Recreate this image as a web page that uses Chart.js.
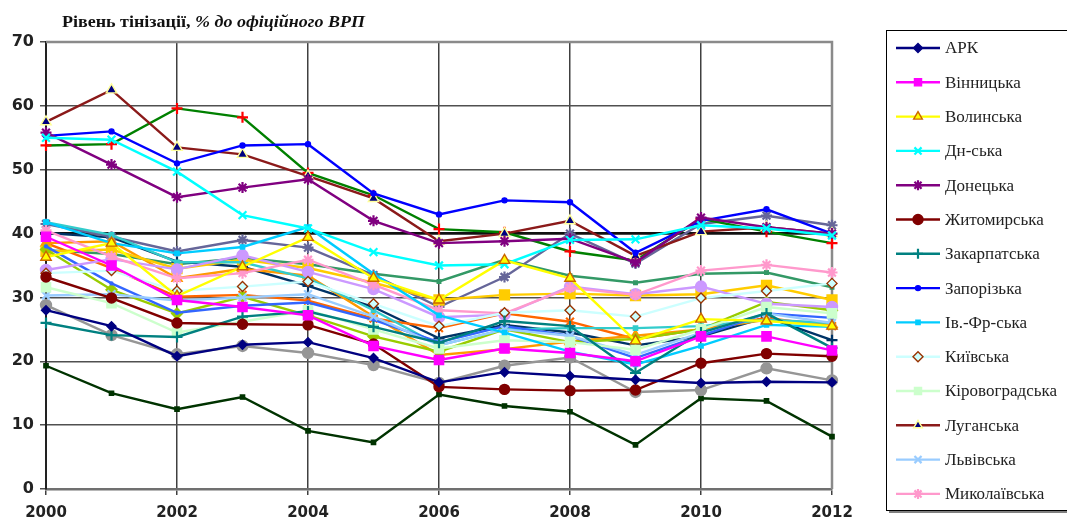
<!DOCTYPE html>
<html>
<head>
<meta charset="utf-8">
<script src="https://cdn.jsdelivr.net/npm/chart.js@4.4.0/dist/chart.umd.min.js"></script>
<style>
  html, body { margin: 0; padding: 0; background: #fff; }
  #wrap { width: 1067px; height: 518px; position: relative; }
</style>
</head>
<body>
<div id="wrap"><canvas id="c"></canvas></div>
<script>
// ── Data ─────────────────────────────────────────────────────────
const years = ["2000","2001","2002","2003","2004","2005","2006","2007","2008","2009","2010","2011","2012"];
const yTicks = [0, 10, 20, 30, 40, 50, 60, 70];

const ark          = [28.0, 25.5, 20.8, 22.6, 23.0, 20.5, 16.7, 18.3, 17.7, 17.1, 16.6, 16.8, 16.7];
const vinnytska    = [39.5, 35.0, 29.6, 28.5, 27.2, 22.4, 20.2, 22.0, 21.3, 20.0, 23.9, 23.9, 21.7];
const volynska     = [36.3, 38.5, 30.2, 34.8, 39.4, 33.0, 29.6, 35.8, 33.0, 23.2, 26.6, 26.3, 25.5];
const dnipro       = [55.0, 54.7, 49.7, 42.9, 40.8, 37.1, 35.0, 35.2, 39.0, 39.1, 41.3, 40.8, 39.7];
const donetska     = [55.8, 50.8, 45.7, 47.2, 48.5, 42.0, 38.5, 38.8, 39.2, 35.5, 42.5, 41.0, 40.0];
const zhytomyrska  = [33.2, 29.9, 26.0, 25.8, 25.7, 22.7, 16.0, 15.6, 15.4, 15.5, 19.7, 21.2, 20.8];
const zakarpatska  = [26.0, 24.1, 23.8, 27.0, 27.8, 25.4, 22.9, 26.3, 25.5, 18.2, 24.5, 27.5, 22.1];
const zaporizka    = [55.3, 56.0, 51.0, 53.8, 54.0, 46.3, 43.0, 45.2, 44.9, 37.0, 42.0, 43.8, 40.0];
const ivfr         = [41.8, 38.5, 36.9, 37.9, 41.0, 33.7, 27.2, 24.5, 21.5, 19.5, 22.4, 25.7, 25.4];
const kyivska      = [33.8, 34.2, 31.0, 31.7, 32.5, 29.0, 25.5, 27.6, 28.0, 27.0, 29.9, 31.0, 32.2];
const kirovohradska= [31.6, 29.1, 24.5, 26.2, 28.0, 25.0, 22.0, 23.3, 23.0, 21.8, 25.0, 28.5, 27.5];
const luhanska     = [57.5, 62.5, 53.5, 52.4, 49.0, 45.5, 38.8, 40.0, 42.0, 36.5, 40.3, 41.0, 40.0];
const lvivska      = [30.3, 30.5, 29.5, 30.0, 30.5, 27.0, 22.5, 25.0, 24.0, 21.0, 24.5, 27.5, 26.0];
const mykolaivska  = [40.5, 36.4, 33.0, 33.8, 35.9, 32.0, 28.0, 27.5, 31.5, 30.4, 34.2, 35.1, 33.9];
const odeska       = [34.3, 36.0, 34.4, 36.6, 34.0, 31.3, 26.9, 27.3, 31.7, 30.5, 31.7, 29.0, 28.5];
const poltavska    = [53.8, 54.0, 59.6, 58.2, 49.5, 46.0, 40.7, 40.2, 37.2, 35.8, 42.3, 40.3, 38.5];
const rivnenska    = [38.0, 32.2, 27.6, 28.7, 29.2, 26.5, 23.0, 25.5, 24.0, 20.5, 24.0, 27.5, 26.8];
const sumska       = [41.8, 39.8, 35.5, 35.5, 33.0, 28.0, 22.5, 25.0, 25.2, 25.2, 25.5, 26.5, 26.0];
const ternopilska  = [37.5, 31.2, 27.5, 30.1, 27.2, 23.9, 21.5, 25.0, 23.0, 23.5, 25.0, 29.3, 28.0];
const kharkivska   = [37.2, 37.5, 34.5, 35.9, 34.6, 32.3, 29.6, 30.4, 30.6, 30.3, 30.5, 31.9, 29.6];
const khersonska   = [38.5, 38.8, 33.0, 34.5, 33.4, 27.0, 21.0, 21.9, 23.1, 24.0, 25.0, 26.5, 25.8];
const khmelnytska  = [38.5, 34.6, 30.1, 30.4, 29.5, 26.7, 25.2, 27.5, 26.2, 23.5, 25.0, 26.8, 25.5];
const cherkaska    = [41.5, 39.5, 37.2, 39.0, 37.8, 33.5, 28.5, 33.2, 40.0, 35.3, 41.5, 42.8, 41.3];
const chernivetska = [28.8, 24.1, 21.1, 22.4, 21.3, 19.4, 16.6, 19.3, 20.6, 15.2, 15.5, 18.9, 17.0];
const chernihivska = [40.1, 39.4, 35.6, 34.8, 31.8, 28.5, 23.6, 25.7, 24.5, 22.5, 23.9, 26.9, 23.3];
const kyivCity     = [37.4, 36.8, 35.2, 36.2, 35.2, 33.7, 32.5, 35.9, 33.4, 32.3, 33.7, 33.9, 31.6];
const sevastopol   = [19.3, 15.0, 12.5, 14.4,  9.1,  7.3, 14.8, 13.0, 12.1,  6.9, 14.2, 13.8,  8.2];

const names = ["АРК","Вінницька","Волинська","Дн-ська","Донецька","Житомирська","Закарпатська",
  "Запорізька","Ів.-Фр-ська","Київська","Кіровоградська","Луганська","Львівська","Миколаївська",
  "Одеська","Полтавська","Рівненська","Сумська","Тернопільська","Харківська","Херсонська",
  "Хмельницька","Черкаська","Чернівецька","Чернігівська","м. Київ","м. Севастополь"];
const values = [ark, vinnytska, volynska, dnipro, donetska, zhytomyrska, zakarpatska,
  zaporizka, ivfr, kyivska, kirovohradska, luhanska, lvivska, mykolaivska,
  odeska, poltavska, rivnenska, sumska, ternopilska, kharkivska, khersonska,
  khmelnytska, cherkaska, chernivetska, chernihivska, kyivCity, sevastopol];

// ── Styles (line colour, marker style, marker fill, marker border, radius) ──
const STYLES = [
  ["#000080","rectRot","#000080","#000080",4.5],
  ["#FF00FF","rect","#FF00FF","#FF00FF",6.5],
  ["#FFFF00","triangle","#FFFF00","#CC6600",6],
  ["#00FFFF","crossRot","#00FFFF","#00FFFF",5.5],
  ["#800080","star","#800080","#800080",5.5],
  ["#800000","circle","#800000","#800000",5],
  ["#008080","cross","#008080","#008080",5.5],
  ["#0000FF","circle","#0000FF","#0000FF",2.5],
  ["#00CCFF","rect","#00CCFF","#00CCFF",3],
  ["#CCFFFF","rectRot","#CCFFFF","#993300",5],
  ["#CCFFCC","rect","#CCFFCC","#CCFFCC",6.5],
  ["#8B1A1A","triangle","#000080","#FFFF99",6],
  ["#99CCFF","crossRot","#99CCFF","#99CCFF",5.5],
  ["#FF99CC","star","#FF99CC","#FF99CC",5.5],
  ["#CC99FF","circle","#CC99FF","#CC99FF",5.5],
  ["#008000","cross","#FF0000","#FF0000",5.5],
  ["#3366FF","circle","#3366FF","#3366FF",1.5],
  ["#33CCCC","rect","#33CCCC","#33CCCC",3],
  ["#99CC00","rectRot","#99CC00","#99CC00",5.5],
  ["#FFCC00","rect","#FFCC00","#FFCC00",7],
  ["#FF9900","triangle","#FF9900","#FF9900",6],
  ["#FF6600","crossRot","#FF6600","#FF6600",5.5],
  ["#666699","star","#666699","#666699",5.5],
  ["#969696","circle","#969696","#969696",5.5],
  ["#003366","cross","#003366","#003366",5.5],
  ["#339966","rect","#339966","#339966",2.5],
  ["#003300","rect","#003300","#003300",3]
];
const LEGEND_COUNT = 14;

const datasets = names.map((n, i) => {
  const [col, ps, fill, bord, r] = STYLES[i];
  return {
    label: n, data: values[i], borderColor: col, backgroundColor: col,
    borderWidth: 2.4, tension: 0, pointStyle: ps, pointRadius: r, pointHoverRadius: r,
    pointBackgroundColor: fill, pointBorderColor: bord,
    pointBorderWidth: (ps === "star" || ps === "cross" || ps === "crossRot") ? 2.2 : 1.4
  };
});

// ── Frame, title and legend ──────────────────────────────────────
const decor = {
  id: "decor",
  beforeDatasetsDraw(chart) {
    const { ctx, chartArea: a } = chart;
    ctx.save();
    ctx.strokeStyle = "#8a8a8a"; ctx.lineWidth = 2.5;
    ctx.beginPath();
    ctx.moveTo(a.left, a.top); ctx.lineTo(a.right, a.top); ctx.lineTo(a.right, a.bottom);
    ctx.stroke();
    ctx.restore();
  },
  afterDraw(chart) {
    const ctx = chart.ctx;
    ctx.save();
    // title
    const t1 = "Рівень тінізації, ", t2 = "% до офіційного ВРП";
    const f1 = 'bold 16px "Liberation Serif"', f2 = 'bold italic 16px "Liberation Serif"';
    ctx.font = f1; const w1 = ctx.measureText(t1).width;
    ctx.font = f2; const w2 = ctx.measureText(t2).width;
    const sx = 303 / (w1 + w2);
    ctx.translate(62, 27); ctx.scale(sx, 1);
    ctx.fillStyle = "#111"; ctx.textBaseline = "alphabetic";
    ctx.font = f1; ctx.fillText(t1, 0, 0);
    ctx.font = f2; ctx.fillText(t2, w1, 0);
    ctx.restore();

    // legend box
    ctx.save();
    ctx.fillStyle = "#808080"; ctx.fillRect(889, 510, 200, 3);
    ctx.fillStyle = "#fff"; ctx.fillRect(886, 30, 200, 480);
    ctx.strokeStyle = "#000"; ctx.lineWidth = 1;
    ctx.strokeRect(886.5, 30.5, 200, 480);
    ctx.font = '17px "Liberation Serif"'; ctx.textBaseline = "middle";
    for (let i = 0; i < LEGEND_COUNT; i++) {
      const ds = chart.data.datasets[i];
      const y = 48 + i * 34.3;
      ctx.strokeStyle = ds.borderColor; ctx.lineWidth = 2.4;
      ctx.beginPath(); ctx.moveTo(896, y); ctx.lineTo(940, y); ctx.stroke();
      ctx.fillStyle = ds.pointBackgroundColor; ctx.strokeStyle = ds.pointBorderColor;
      ctx.lineWidth = ds.pointBorderWidth;
      if (Chart.helpers && Chart.helpers.drawPoint) {
        Chart.helpers.drawPoint(ctx, { pointStyle: ds.pointStyle, radius: Math.min(ds.pointRadius, 5), rotation: 0, borderWidth: ds.pointBorderWidth }, 918, y);
      }
      ctx.fillStyle = "#222";
      ctx.fillText(ds.label, 945, y + 1);
    }
    ctx.restore();
  }
};

new Chart(document.getElementById("c"), {
  type: "line",
  data: { labels: years, datasets },
  plugins: [decor],
  options: {
    responsive: true, maintainAspectRatio: false, animation: false,
    layout: { padding: { left: 0, top: 42, right: 1067 - 832, bottom: 0 } },
    plugins: { legend: { display: false }, tooltip: { enabled: false } },
    scales: {
      x: {
        offset: false,
        afterFit: s => { s.height = 29; },
        grid: {
          color: c => (c.index % 2 === 0 ? "#404040" : "rgba(0,0,0,0)"),
          lineWidth: 1.5, tickLength: 6
        },
        border: { color: "#707070", width: 2.5 },
        ticks: {
          autoSkip: false, maxRotation: 0, padding: 9, color: "#222",
          font: { family: "DejaVu Sans", size: 15, weight: "bold" },
          callback: (v, i) => (i % 2 === 0 ? years[i] : "")
        }
      },
      y: {
        min: 0, max: 70,
        afterFit: s => { s.width = 46; },
        afterBuildTicks: s => { s.ticks = yTicks.map(v => ({ value: v })); },
        grid: {
          color: c => (c.tick && c.tick.value === 40 ? "#111" : "#505050"),
          lineWidth: c => (c.tick && c.tick.value === 40 ? 2.8 : 1.5),
          tickLength: 6
        },
        border: { color: "#222", width: 2 },
        ticks: {
          padding: 6, color: "#222",
          font: { family: "DejaVu Sans", size: 16, weight: "bold" }
        }
      }
    }
  }
});
</script>
</body>
</html>
